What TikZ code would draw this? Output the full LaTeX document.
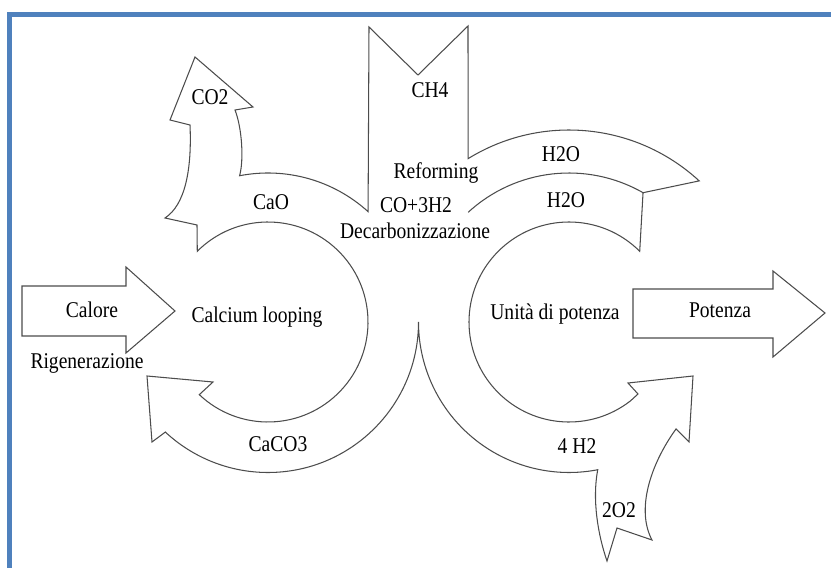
\documentclass[tikz,border=0pt]{standalone}
\usepackage{fontspec}
\setmainfont{Liberation Serif}
\usepackage{tikz}
\usetikzlibrary{calc}
\definecolor{framebl}{HTML}{4F81BD}
\newcommand{\lblfont}{\fontsize{16.7}{20}\selectfont}

\begin{document}
\begin{tikzpicture}[
  x=0.03cm, y=0.03cm,
  outline/.style={draw=black!70, line width=0.9pt},
  lbl/.style={font=\lblfont, anchor=base, inner sep=0pt, yscale=1.15},
  frame/.style={draw=framebl, line width=4.6pt}
]
\useasboundingbox (0,0) rectangle (831,-568);
\draw[frame] (9.7,-600) |- (900,-14.2);

\coordinate (lc) at (268,-322);
\coordinate (rc) at (569,-322);

\draw[outline] (22,-286) -- (126,-286) -- (126,-267) -- (175,-311) -- (126,-353) -- (126,-336) -- (22,-336) -- cycle;
\draw[outline] (633,-289) -- (773,-289) -- (773,-271) -- (825,-313) -- (773,-357) -- (773,-338) -- (633,-338) -- cycle;

\draw[outline] ($(lc)+(0:150.5)$) arc[start angle=0, end angle=-133, radius=150.5]
  -- (152,-442) -- (147,-376) -- (213,-382) -- ($(lc)+(226.6:100)$)
  arc[start angle=226.6, end angle=495, radius=100]
  -- (197,-225) -- (165,-218)
  .. controls (185,-205) and (192,-170) .. (190,-125)
  -- (170,-120) -- (195,-57) -- (253,-107) -- (235,-110)
  .. controls (242,-128) and (244,-160) .. ($(lc)+(101:149)$)
  arc[start angle=101, end angle=47.8, radius=149]
  -- (369,-27) -- (418,-75) -- (468,-26) -- ($(rc)+(121.7:192)$)
  arc[start angle=121.7, end angle=47.3, radius=192]
  -- ($(rc)+(60.2:149)$) -- ($(rc)+(45:100)$)
  arc[start angle=45, end angle=308, radius=100]
  -- (638,-394) -- (628,-383) -- (693,-376) -- (689,-442) -- (676,-429)
  .. controls (650,-465) and (636,-510) .. (652,-540)
  -- (617,-528) -- (607,-561)
  .. controls (598,-535) and (592,-500) .. ($(rc)+(281:150.5)$)
  arc[start angle=281, end angle=180, radius=150.5];
\draw[outline] ($(rc)+(132.6:149)$) arc[start angle=132.6, end angle=60.2, radius=149];

\node[lbl] (calore) at (92,-318) {Calore};
\node[lbl] (rigen) at (87,-369) {Rigenerazione};
\node[lbl] (caloop) at (257,-323) {Calcium looping};
\node[lbl] (caco) at (278,-451) {CaCO3};
\node[lbl] (cao) at (271,-210) {CaO};
\node[lbl] (cod) at (210,-105) {CO2};
\node[lbl] (ch) at (430,-98) {CH4};
\node[lbl] (reform) at (436,-179) {Reforming};
\node[lbl] (syngas) at (416,-213) {CO+3H2};
\node[lbl] (decarb) at (415,-239) {Decarbonizzazione};
\node[lbl] (acqa) at (561,-162) {H2O};
\node[lbl] (acqb) at (566,-208) {H2O};
\node[lbl] (unita) at (555,-320) {Unità di potenza};
\node[lbl] (potenza) at (720,-318) {Potenza};
\node[lbl] (idro) at (577,-453) {4 H2};
\node[lbl] (ossi) at (619,-517) {2O2};

\end{tikzpicture}
\end{document}
